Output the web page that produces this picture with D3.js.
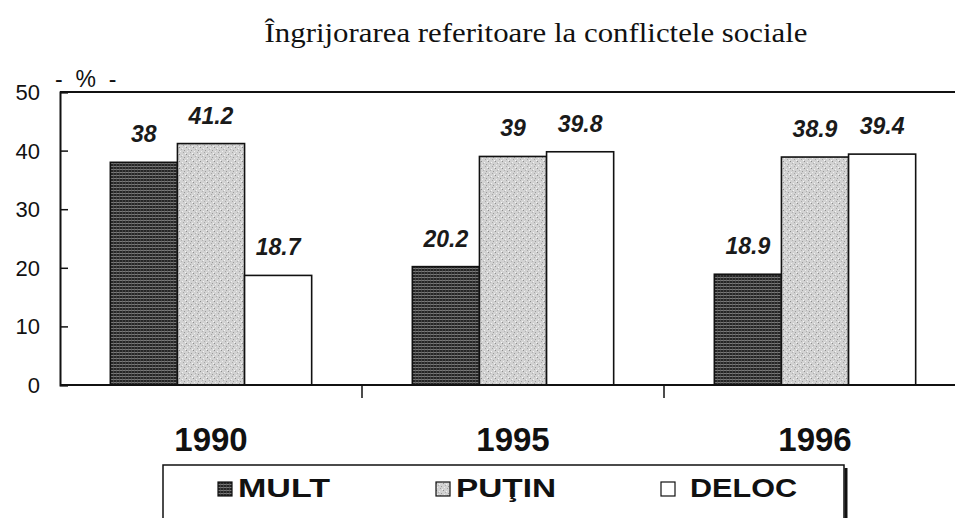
<!DOCTYPE html>
<html>
<head>
<meta charset="utf-8">
<script src="https://cdn.jsdelivr.net/npm/d3@7"></script>
<style>
  body { margin: 0; background: #fff; }
  svg { display: block; }
</style>
</head>
<body>
<svg id="chart"></svg>
<script>
'use strict';

var years = ['1990', '1995', '1996'];
var seriesNames = ['MULT', 'PUŢIN', 'DELOC'];
var mult = [38, 20.2, 18.9];
var putin = [41.2, 39, 38.9];
var deloc = [18.7, 39.8, 39.4];
var yTicks = [0, 10, 20, 30, 40, 50];

var width = 955,
  height = 518,
  plotLeft = 60,
  plotTop = 92,
  plotBottom = 385,
  plotRight = 966;

var svg = d3.select('#chart')
  .attr('width', width)
  .attr('height', height);

// patterns for the shaded bars
var defs = svg.append('defs');
var pMult = defs.append('pattern')
  .attr('id', 'pat-mult')
  .attr('patternUnits', 'userSpaceOnUse')
  .attr('width', 3).attr('height', 3);
pMult.append('rect').attr('width', 3).attr('height', 3).attr('fill', '#262626');
pMult.append('rect').attr('y', 1).attr('width', 3).attr('height', 1).attr('fill', '#7a7a7a');
pMult.append('rect').attr('x', 2).attr('width', 0.6).attr('height', 3).attr('fill', '#555');

var pPutin = defs.append('pattern')
  .attr('id', 'pat-putin')
  .attr('patternUnits', 'userSpaceOnUse')
  .attr('width', 7).attr('height', 7);
pPutin.append('rect').attr('width', 7).attr('height', 7).attr('fill', '#d2d2d2');
[[0, 0, '#8d8d8d'], [3, 1, '#f2f2f2'], [5, 3, '#9a9a9a'], [1, 4, '#eeeeee'],
 [4, 5, '#a5a5a5'], [6, 6, '#f5f5f5'], [2, 2, '#b0b0b0']].forEach(function (d) {
  pPutin.append('rect').attr('x', d[0]).attr('y', d[1])
    .attr('width', 1).attr('height', 1).attr('fill', d[2]);
});

var fills = ['url(#pat-mult)', 'url(#pat-putin)', '#fff'];

var x = d3.scaleBand()
  .domain(years)
  .range([plotLeft, plotRight]);

var xInner = d3.scaleBand()
  .domain(seriesNames)
  .range([x.bandwidth() / 6, x.bandwidth() * 5 / 6]);

var y = d3.scaleLinear()
  .domain([0, 50])
  .range([plotBottom, plotTop]);

var rows = years.map(function (yr, i) {
  return { year: yr, values: [mult[i], putin[i], deloc[i]] };
});

// title
svg.append('text')
  .attr('x', 536)
  .attr('y', 42)
  .attr('text-anchor', 'middle')
  .attr('font-family', 'Liberation Serif, DejaVu Serif, serif')
  .attr('font-size', 27)
  .attr('textLength', 543)
  .attr('lengthAdjust', 'spacingAndGlyphs')
  .attr('fill', '#111')
  .text('Îngrijorarea referitoare la conflictele sociale');

// y axis label
svg.append('text')
  .attr('x', 55)
  .attr('y', 87)
  .attr('font-family', 'Liberation Sans, Arial, sans-serif')
  .attr('font-size', 23)
  .attr('fill', '#111')
  .style('white-space', 'pre')
  .text('-  %  -');

// bars
var g = svg.selectAll('.grp')
  .data(rows)
  .enter().append('g')
  .attr('class', 'grp')
  .attr('transform', function (d) { return 'translate(' + x(d.year) + ',0)'; });

g.selectAll('rect')
  .data(function (d) { return d.values.map(function (v, j) { return { name: seriesNames[j], value: v, idx: j }; }); })
  .enter().append('rect')
  .attr('x', function (d) { return xInner(d.name); })
  .attr('y', function (d) { return y(d.value); })
  .attr('width', xInner.bandwidth())
  .attr('height', function (d) { return plotBottom - y(d.value); })
  .attr('fill', function (d) { return fills[d.idx]; })
  .attr('stroke', '#111')
  .attr('stroke-width', 1.6);

g.selectAll('text')
  .data(function (d) { return d.values.map(function (v, j) { return { name: seriesNames[j], value: v }; }); })
  .enter().append('text')
  .attr('x', function (d) { return xInner(d.name) + xInner.bandwidth() / 2; })
  .attr('y', function (d) { return y(d.value) - 20; })
  .attr('text-anchor', 'middle')
  .attr('font-family', 'Liberation Sans, Arial, sans-serif')
  .attr('font-size', 23)
  .attr('font-weight', 'bold')
  .attr('font-style', 'italic')
  .attr('fill', '#1a1a1a')
  .text(function (d) { return d.value; });

// frame: top line, left axis, baseline
svg.append('line')
  .attr('x1', plotLeft).attr('x2', width)
  .attr('y1', plotTop).attr('y2', plotTop)
  .attr('stroke', '#111').attr('stroke-width', 2);

var yAxis = d3.axisRight(y)
  .tickValues(yTicks)
  .tickSize(8)
  .tickFormat('');

var ya = svg.append('g')
  .attr('transform', 'translate(' + plotLeft + ',0)')
  .call(yAxis);
ya.select('.domain').attr('stroke', '#111').attr('stroke-width', 2);
ya.selectAll('.tick line').attr('stroke', '#111').attr('stroke-width', 1.5);

svg.selectAll('.ylab')
  .data(yTicks)
  .enter().append('text')
  .attr('class', 'ylab')
  .attr('x', 40)
  .attr('y', function (d) { return y(d) + 8; })
  .attr('text-anchor', 'end')
  .attr('font-family', 'Liberation Sans, Arial, sans-serif')
  .attr('font-size', 22)
  .attr('fill', '#111')
  .text(function (d) { return d; });

svg.append('line')
  .attr('x1', plotLeft).attr('x2', width)
  .attr('y1', plotBottom).attr('y2', plotBottom)
  .attr('stroke', '#111').attr('stroke-width', 2);

// category separators below the baseline
svg.selectAll('.sep')
  .data(years.slice(1))
  .enter().append('line')
  .attr('class', 'sep')
  .attr('x1', function (d) { return x(d); })
  .attr('x2', function (d) { return x(d); })
  .attr('y1', plotBottom)
  .attr('y2', plotBottom + 13)
  .attr('stroke', '#111')
  .attr('stroke-width', 1.5);

// year labels
svg.selectAll('.year')
  .data(years)
  .enter().append('text')
  .attr('class', 'year')
  .attr('x', function (d) { return x(d) + x.bandwidth() / 2; })
  .attr('y', 451)
  .attr('text-anchor', 'middle')
  .attr('font-family', 'Liberation Sans, Arial, sans-serif')
  .attr('font-size', 33)
  .attr('font-weight', 'bold')
  .attr('fill', '#111')
  .text(function (d) { return d; });

// legend
var legend = svg.append('g');
legend.append('rect')
  .attr('x', 163).attr('y', 465)
  .attr('width', 681).attr('height', 70)
  .attr('fill', 'none')
  .attr('stroke', '#111')
  .attr('stroke-width', 1.5);
legend.append('line')
  .attr('x1', 846).attr('x2', 846)
  .attr('y1', 468).attr('y2', 518)
  .attr('stroke', '#111')
  .attr('stroke-width', 3);

var legendX = [218, 436, 661];
var legendW = [92, 100, 107];
var items = legend.selectAll('.item')
  .data(seriesNames)
  .enter().append('g')
  .attr('class', 'item')
  .attr('transform', function (d, i) { return 'translate(' + legendX[i] + ',0)'; });

items.append('rect')
  .attr('x', 0).attr('y', 482)
  .attr('width', 14).attr('height', 14)
  .attr('fill', function (d, i) { return fills[i]; })
  .attr('stroke', '#111')
  .attr('stroke-width', 1.2);

items.append('text')
  .attr('x', function (d, i) { return i === 2 ? 29 : 20; })
  .attr('y', 497)
  .attr('font-family', 'Liberation Sans, Arial, sans-serif')
  .attr('font-size', 26)
  .attr('font-weight', 'bold')
  .attr('textLength', function (d, i) { return legendW[i]; })
  .attr('lengthAdjust', 'spacingAndGlyphs')
  .attr('fill', '#111')
  .text(function (d) { return d; });
</script>
</body>
</html>
